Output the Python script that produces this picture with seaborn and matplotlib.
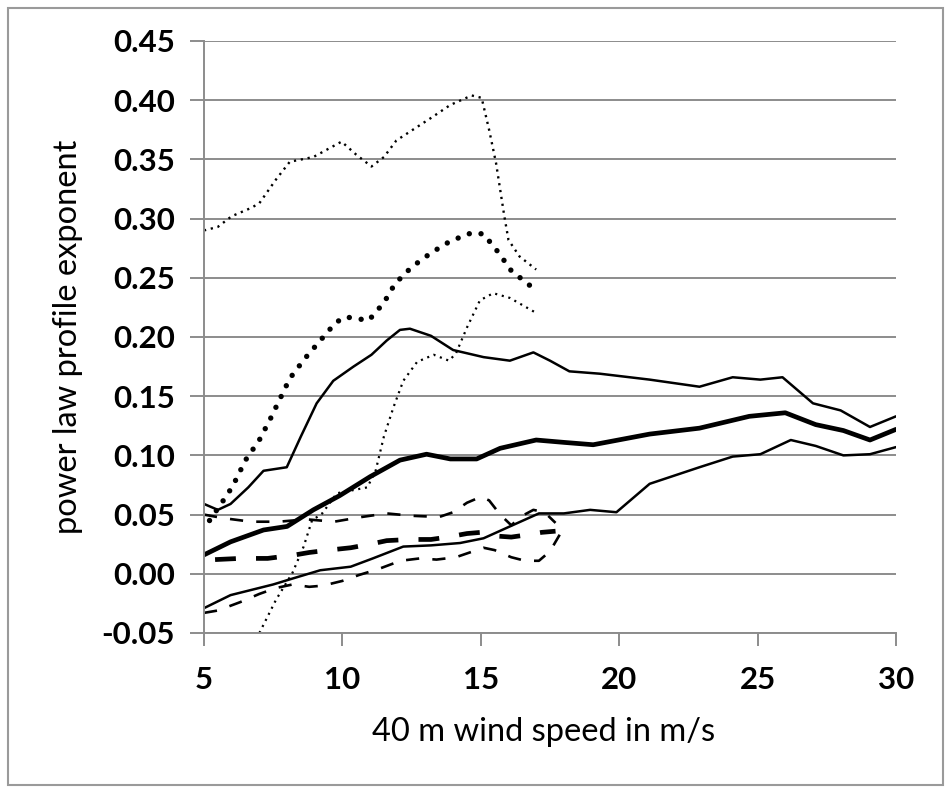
import matplotlib
matplotlib.use("Agg")
import matplotlib.pyplot as plt
from matplotlib.patches import Rectangle
import seaborn as sns
import numpy as np

# ---------------- data ----------------
x_ticks = [5, 10, 15, 20, 25, 30]
y_ticks = [-0.05, 0.00, 0.05, 0.10, 0.15, 0.20, 0.25, 0.30, 0.35, 0.40, 0.45]
x_label = "40 m wind speed in m/s"
y_label = "power law profile exponent"

thin_dot_top_x = [5.0, 5.5, 6.0, 6.7, 7.0, 7.6, 8.1, 8.95, 9.97, 10.5, 11.05, 11.5, 11.95,
                  13.2, 13.9, 14.67, 15.03, 15.3, 15.55, 15.85, 16.0, 16.4, 17.0]
thin_dot_top_y = [0.290, 0.293, 0.302, 0.309, 0.313, 0.333, 0.348, 0.352, 0.365, 0.354, 0.344,
                  0.352, 0.366, 0.385, 0.396, 0.404, 0.402, 0.375, 0.347, 0.302, 0.282, 0.268, 0.257]

thick_dot_x = [5.2, 5.7, 5.9, 6.1, 6.5, 7.0, 7.4, 7.75, 8.1, 8.65, 9.2, 9.75, 10.1, 10.95,
               11.5, 11.9, 12.5, 13.2, 13.9, 14.67, 15.1, 15.65, 16.1, 16.8]
thick_dot_y = [0.045, 0.062, 0.069, 0.077, 0.096, 0.113, 0.131, 0.148, 0.165, 0.182, 0.197,
               0.212, 0.217, 0.214, 0.229, 0.245, 0.259, 0.271, 0.281, 0.288, 0.287, 0.271,
               0.256, 0.243]

thin_dot_low_x = [7.0, 7.6, 8.2, 8.6, 8.9, 9.27, 9.8, 10.9, 11.2, 11.5, 11.85, 12.2, 12.7,
                  13.3, 13.85, 14.1, 14.5, 14.97, 15.45, 16.05, 16.95]
thin_dot_low_y = [-0.050, -0.022, 0.001, 0.023, 0.045, 0.051, 0.068, 0.073, 0.087, 0.116,
                  0.141, 0.163, 0.179, 0.185, 0.180, 0.186, 0.208, 0.231, 0.237, 0.233, 0.221]

solid_top_x = [5.0, 5.5, 5.96, 6.6, 7.15, 7.99, 8.5, 9.07, 9.67, 10.4, 11.05, 11.6, 12.08,
               12.44, 13.2, 14.0, 15.1, 16.05, 16.9, 17.5, 18.2, 19.3, 21.1, 22.9, 24.1,
               25.1, 25.9, 27.0, 28.0, 29.06, 30.0]
solid_top_y = [0.059, 0.054, 0.059, 0.073, 0.087, 0.090, 0.116, 0.144, 0.163, 0.175, 0.185,
               0.197, 0.206, 0.207, 0.201, 0.189, 0.183, 0.180, 0.187, 0.180, 0.171, 0.169,
               0.164, 0.158, 0.166, 0.164, 0.166, 0.144, 0.138, 0.124, 0.133]

solid_mid_x = [5.0, 5.96, 7.15, 8.0, 8.95, 9.9, 11.0, 12.08, 13.04, 13.9, 14.85, 15.7, 17.0,
               18.0, 19.06, 21.1, 22.9, 24.7, 26.0, 27.1, 28.1, 29.06, 30.0]
solid_mid_y = [0.016, 0.027, 0.037, 0.040, 0.054, 0.066, 0.082, 0.096, 0.101, 0.097, 0.097,
               0.106, 0.113, 0.111, 0.109, 0.118, 0.123, 0.133, 0.136, 0.126, 0.121, 0.113, 0.122]

solid_low_x = [5.0, 5.96, 7.5, 8.2, 9.2, 10.3, 11.1, 12.2, 13.2, 14.25, 15.1, 16.05, 17.1,
               18.0, 18.95, 19.9, 21.1, 22.9, 24.1, 25.1, 26.2, 27.1, 28.1, 29.06, 30.0]
solid_low_y = [-0.029, -0.018, -0.009, -0.004, 0.003, 0.006, 0.013, 0.023, 0.024, 0.026,
               0.030, 0.040, 0.051, 0.051, 0.054, 0.052, 0.076, 0.090, 0.099, 0.101, 0.113,
               0.108, 0.100, 0.101, 0.107]

dash_top_x = [5.0, 5.7, 6.7, 7.7, 8.7, 9.7, 10.7, 11.6, 12.5, 13.5, 14.0, 14.5, 15.0, 15.3,
              15.7, 16.1, 16.5, 16.9, 17.3, 17.7]
dash_top_y = [0.050, 0.047, 0.044, 0.044, 0.046, 0.044, 0.048, 0.051, 0.049, 0.048, 0.052,
              0.060, 0.065, 0.062, 0.050, 0.041, 0.049, 0.054, 0.052, 0.043]

dash_thick_x = [5.4, 6.3, 7.3, 8.3, 8.8, 9.5, 10.3, 11.0, 11.6, 12.4, 13.2, 13.8, 14.5, 15.0,
                15.5, 16.1, 16.7, 17.2, 17.7]
dash_thick_y = [0.012, 0.013, 0.013, 0.016, 0.018, 0.020, 0.022, 0.025, 0.028, 0.029, 0.029,
                0.031, 0.034, 0.035, 0.032, 0.031, 0.033, 0.035, 0.036]

dash_low_x = [5.0, 5.5, 6.3, 7.0, 7.6, 8.2, 8.8, 9.3, 10.0, 10.6, 11.3, 12.1, 12.8, 13.4,
              14.1, 14.6, 15.1, 15.5, 16.1, 16.6, 17.1, 17.5, 17.85]
dash_low_y = [-0.033, -0.031, -0.024, -0.017, -0.012, -0.009, -0.011, -0.010, -0.006, -0.001,
              0.004, 0.011, 0.013, 0.012, 0.014, 0.018, 0.022, 0.020, 0.014, 0.011, 0.011,
              0.019, 0.033]

# ---------------- style ----------------
sns.set_theme(style="white")
plt.rcParams["font.family"] = ["Lato", "DejaVu Sans"]
plt.rcParams["lines.scale_dashes"] = False

W, H = 951, 793
fig = plt.figure(figsize=(W / 100, H / 100), dpi=100)
fig.patch.set_facecolor("white")
ax = fig.add_axes([204 / W, 1 - 633 / H, (896 - 204) / W, (633 - 41) / H])
ax.set_facecolor("white")

series = [
    (thin_dot_top_x, thin_dot_top_y, dict(linewidth=1.7, dashes=(1.6, 3.4), dash_capstyle="butt")),
    (thick_dot_x, thick_dot_y, dict(linewidth=3.9, dashes=(0.01, 8.6), dash_capstyle="round")),
    (thin_dot_low_x, thin_dot_low_y, dict(linewidth=1.6, dashes=(1.5, 3.4), dash_capstyle="butt")),
    (solid_top_x, solid_top_y, dict(linewidth=1.8)),
    (solid_mid_x, solid_mid_y, dict(linewidth=3.4)),
    (solid_low_x, solid_low_y, dict(linewidth=1.8)),
    (dash_top_x, dash_top_y, dict(linewidth=1.9, dashes=(9.5, 9.5))),
    (dash_thick_x, dash_thick_y, dict(linewidth=3.4, dashes=(15, 14.5))),
    (dash_low_x, dash_low_y, dict(linewidth=1.9, dashes=(9.5, 9.5))),
]
for xs, ys, kw in series:
    sns.lineplot(x=xs, y=ys, ax=ax, color="black", sort=False, estimator=None,
                 solid_capstyle="round", solid_joinstyle="round", **kw)

ax.set_xlim(5, 30)
ax.set_ylim(-0.05, 0.45)
ax.set_xticks(x_ticks)
ax.set_yticks(y_ticks)
ax.set_xticklabels([str(v) for v in x_ticks])
ax.set_yticklabels([f"{v:.2f}" for v in y_ticks])

gray = "#8c8c8c"
ax.yaxis.grid(True, color=gray, linewidth=1.4)
ax.xaxis.grid(False)
ax.set_axisbelow(True)
for s in ["top", "right"]:
    ax.spines[s].set_visible(False)
for s in ["left", "bottom"]:
    ax.spines[s].set_visible(True)
    ax.spines[s].set_color(gray)
    ax.spines[s].set_linewidth(1.4)

ax.tick_params(axis="both", which="major", direction="out", color=gray, width=1.4,
               labelsize=22.5, labelcolor="black", bottom=True, left=True)
ax.tick_params(axis="y", length=10, pad=11)
ax.tick_params(axis="x", length=9, pad=15)
for lab in ax.get_xticklabels() + ax.get_yticklabels():
    lab.set_fontweight("bold")

ax.set_xlabel(x_label, fontsize=23.5, color="black")
ax.set_ylabel(y_label, fontsize=23.5, color="black")
ax.xaxis.set_label_coords(0.49, -0.142)
ax.yaxis.set_label_coords(-0.175, 0.5)

fig.patches.append(Rectangle((8 / W, 8 / H), (943 - 8) / W, (785 - 8) / H,
                             transform=fig.transFigure, fill=False,
                             edgecolor="#9a9a9a", linewidth=1.5))

fig.savefig("out.png", dpi=100, facecolor="white")
